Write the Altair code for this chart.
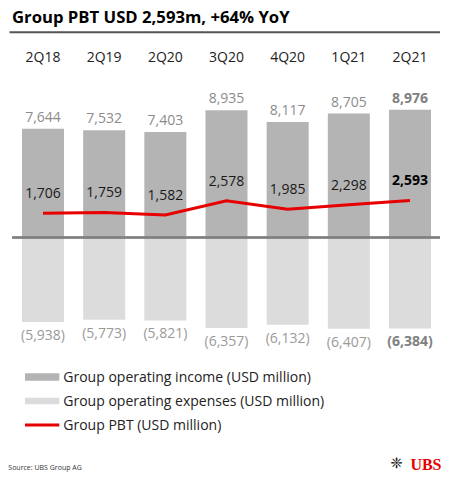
import altair as alt
import pandas as pd

quarters = ["2Q18", "2Q19", "2Q20", "3Q20", "4Q20", "1Q21", "2Q21"]
income = [7644, 7532, 7403, 8935, 8117, 8705, 8976]
expenses = [-5938, -5773, -5821, -6357, -6132, -6407, -6384]
pbt = [1706, 1759, 1582, 2578, 1985, 2298, 2593]

title_text = "Group PBT USD 2,593m, +64% YoY"
legend_labels = ["Group operating income (USD million)",
                 "Group operating expenses (USD million)",
                 "Group PBT (USD million)"]
source_text = "Source: UBS Group AG"

df = pd.DataFrame({"q": quarters, "income": income, "expenses": expenses, "pbt": pbt})
df["inc_lbl"] = [f"{v:,}" for v in income]
df["exp_lbl"] = [f"({-v:,})" for v in expenses]
df["pbt_lbl"] = [f"{v:,}" for v in pbt]

FONT = "Open Sans"
W, H = 433, 464
C_INC, C_EXP, C_RED = "#b4b4b4", "#dcdcdc", "#e60000"

xenc = alt.X("q:N", sort=quarters, axis=None,
             scale=alt.Scale(range=[4.4, 432.6], paddingInner=0.313, paddingOuter=0.157))
yscale = alt.Scale(domain=[-16468, 16117], nice=False, zero=False)


def Y(field):
    return alt.Y(field, scale=yscale, axis=None)


base = alt.Chart(df).encode(x=xenc)
last = alt.datum.q == "2Q21"
notlast = alt.datum.q != "2Q21"

inc_bar = base.mark_bar(color=C_INC).encode(y=Y("income:Q"), y2=alt.datum(0))
exp_bar = base.mark_bar(color=C_EXP).encode(y=Y("expenses:Q"), y2=alt.datum(0))
zero = base.mark_rule(color="#808080", strokeWidth=1.5).encode(
    y=alt.Y(datum=0, scale=yscale, axis=None), x=alt.value(4.3), x2=alt.value(432))
line = base.mark_line(color=C_RED, strokeWidth=3).encode(y=Y("pbt:Q"))

txt = dict(font=FONT, fontSize=14, baseline="alphabetic", align="center")

cat = base.mark_text(color="#222222", **txt).encode(text="q:N", y=alt.value(54.3))

inc_t = base.transform_filter(notlast).mark_text(color="#8c8c8c", dy=-7, **txt).encode(
    y=Y("income:Q"), text="inc_lbl:N")
inc_tb = base.transform_filter(last).mark_text(color="#808080", dy=-7, fontWeight="bold", **txt).encode(
    y=Y("income:Q"), text="inc_lbl:N")
exp_t = base.transform_filter(notlast).mark_text(color="#9a9a9a", dy=18, **txt).encode(
    y=Y("expenses:Q"), text="exp_lbl:N")
exp_tb = base.transform_filter(last).mark_text(color="#808080", dy=18, fontWeight="bold", **txt).encode(
    y=Y("expenses:Q"), text="exp_lbl:N")
pbt_t = base.transform_filter(notlast).mark_text(color="#1a1a1a", dy=-15, **txt).encode(
    y=Y("pbt:Q"), text="pbt_lbl:N")
pbt_tb = base.transform_filter(last).mark_text(color="#000000", dy=-16, fontWeight="bold", **txt).encode(
    y=Y("pbt:Q"), text="pbt_lbl:N")

one = pd.DataFrame({"k": [0]})
title = alt.Chart(one).mark_text(font=FONT, fontSize=16.7, fontWeight="bold", color="#000000",
                                 align="left", baseline="alphabetic", text=title_text).encode(
    x=alt.value(4), y=alt.value(15))
title_rule = alt.Chart(one).mark_rule(color="#555555", strokeWidth=2).encode(
    x=alt.value(1.5), x2=alt.value(432), y=alt.value(24.3))

leg = []
leg.append(alt.Chart(one).mark_rect(color=C_INC).encode(
    x=alt.value(17), x2=alt.value(51.3), y=alt.value(365.3), y2=alt.value(372.7)))
leg.append(alt.Chart(one).mark_rect(color=C_EXP).encode(
    x=alt.value(17), x2=alt.value(51.3), y=alt.value(389.7), y2=alt.value(396.3)))
leg.append(alt.Chart(one).mark_rule(color=C_RED, strokeWidth=3).encode(
    x=alt.value(17), x2=alt.value(51.3), y=alt.value(417)))
for lbl, yy in zip(legend_labels, [373.7, 398, 422.3]):
    leg.append(alt.Chart(one).mark_text(font=FONT, fontSize=14, color="#222222", align="left",
                                        baseline="alphabetic", text=lbl).encode(
        x=alt.value(55.3), y=alt.value(yy)))

source = alt.Chart(one).mark_text(font=FONT, fontSize=7, color="#333333", align="left",
                                  baseline="alphabetic", text=source_text).encode(
    x=alt.value(0.3), y=alt.value(461.5))
ubs = alt.Chart(one).mark_text(font="Liberation Serif", fontSize=16, fontWeight="bold", color="#e60000",
                               align="right", baseline="alphabetic", text="UBS").encode(
    x=alt.value(433.5), y=alt.value(462))
keys = alt.Chart(one).mark_text(font="DejaVu Sans", fontSize=15, color="#111111",
                                align="center", baseline="alphabetic", text="\u2748").encode(
    x=alt.value(388.5), y=alt.value(460))

chart = alt.layer(inc_bar, exp_bar, zero, line, cat, inc_t, inc_tb, exp_t, exp_tb, pbt_t, pbt_tb,
                  title, title_rule, *leg, source, ubs, keys).properties(
    width=W, height=H, autosize=alt.AutoSizeParams(type="none"), padding=0
).configure_view(strokeWidth=0)

chart.save("out.html", embed_options={"renderer": "svg", "actions": False})
